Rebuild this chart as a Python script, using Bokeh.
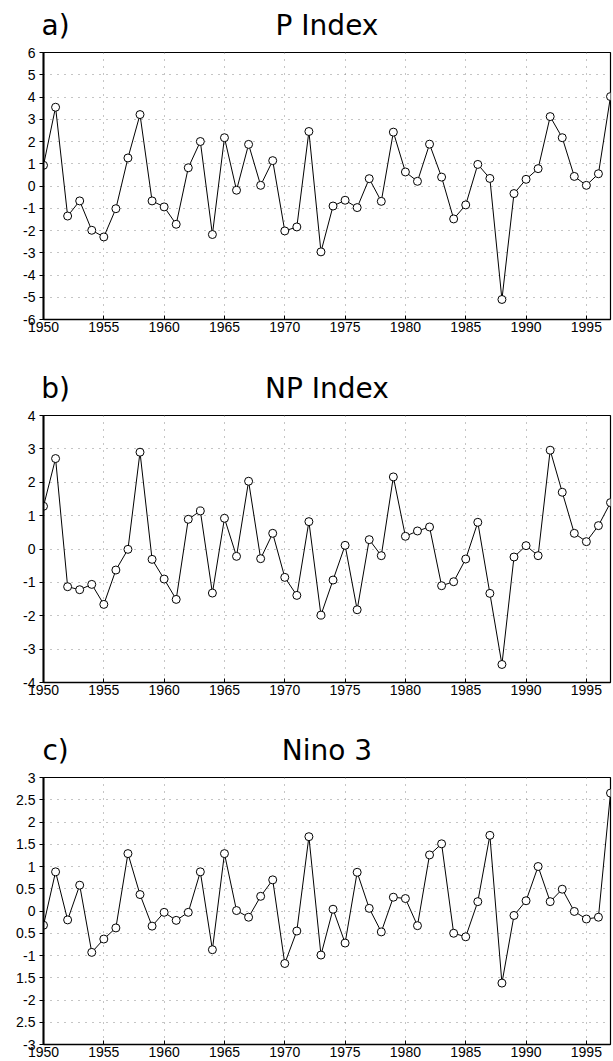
from bokeh.plotting import figure
from bokeh.models import FixedTicker, Range1d, LinearAxis
from bokeh.layouts import column
from bokeh.embed import file_html
from bokeh.resources import INLINE

years = list(range(1950, 1998))

p_index = [0.93, 3.54, -1.35, -0.67, -1.99, -2.29, -1.02, 1.26, 3.21, -0.67,
           -0.94, -1.72, 0.82, 2.00, -2.18, 2.17, -0.19, 1.87, 0.03, 1.14,
           -2.02, -1.84, 2.45, -2.96, -0.90, -0.64, -0.97, 0.33, -0.69, 2.42,
           0.63, 0.21, 1.88, 0.40, -1.48, -0.85, 0.97, 0.34, -5.10, -0.34,
           0.30, 0.78, 3.12, 2.17, 0.43, 0.03, 0.55, 4.02]

np_index = [1.28, 2.71, -1.13, -1.22, -1.06, -1.66, -0.63, -0.01, 2.90, -0.31,
            -0.90, -1.51, 0.89, 1.14, -1.32, 0.92, -0.22, 2.03, -0.29, 0.47,
            -0.85, -1.39, 0.82, -1.98, -0.93, 0.11, -1.82, 0.28, -0.20, 2.16,
            0.38, 0.54, 0.66, -1.10, -0.98, -0.30, 0.80, -1.33, -3.46, -0.24,
            0.10, -0.20, 2.96, 1.70, 0.47, 0.22, 0.70, 1.39]

nino3 = [-0.32, 0.88, -0.20, 0.58, -0.93, -0.63, -0.38, 1.29, 0.37, -0.34,
         -0.03, -0.21, -0.03, 0.88, -0.87, 1.29, 0.01, -0.14, 0.33, 0.70,
         -1.18, -0.45, 1.67, -0.99, 0.04, -0.72, 0.87, 0.06, -0.47, 0.31,
         0.28, -0.33, 1.26, 1.51, -0.50, -0.58, 0.21, 1.70, -1.62, -0.10,
         0.23, 1.00, 0.21, 0.49, -0.01, -0.18, -0.14, 2.65]

titles = ["P Index", "NP Index", "Nino 3"]
panel_tags = ["a)", "b)", "c)"]

x_ticks = [1950, 1955, 1960, 1965, 1970, 1975, 1980, 1985, 1990, 1995]

a_ticks = [-6, -5, -4, -3, -2, -1, 0, 1, 2, 3, 4, 5, 6]
a_labels = ["-6", "-5", "-4", "-3", "-2", "-1", "0", "1", "2", "3", "4", "5", "6"]
b_ticks = [-4, -3, -2, -1, 0, 1, 2, 3, 4]
b_labels = ["-4", "-3", "-2", "-1", "0", "1", "2", "3", "4"]
c_ticks = [-3, -2.5, -2, -1.5, -1, -0.5, 0, 0.5, 1, 1.5, 2, 2.5, 3]
c_labels = ["-3", "2.5", "-2", "1.5", "-1", "0.5", "0", "0.5", "1", "1.5", "2", "2.5", "3"]

series = [p_index, np_index, nino3]
y_tick_sets = [a_ticks, b_ticks, c_ticks]
y_label_sets = [a_labels, b_labels, c_labels]

TICK_FONT = "Liberation Sans"
TITLE_FONT = "DejaVu Sans"

FRAME_W = 567
FRAME_H = 267
BORDER_L = 43
BORDER_R = 2
TOTAL_W = BORDER_L + FRAME_W + BORDER_R
BORDER_T = [52, 52, 51]
BORDER_B = [44, 44, 17]


def key(v):
    return int(v) if float(v).is_integer() else v


figs = []
for i in range(3):
    vals = series[i]
    ticks = y_tick_sets[i]
    ymin, ymax = ticks[0], ticks[-1]
    p = figure(width=TOTAL_W, height=BORDER_T[i] + FRAME_H + BORDER_B[i], title=None,
               x_range=Range1d(years[0], years[-1]),
               y_range=Range1d(ymin, ymax),
               output_backend="svg", toolbar_location=None,
               min_border_left=BORDER_L, min_border_right=BORDER_R,
               min_border_top=BORDER_T[i], min_border_bottom=BORDER_B[i])
    p.background_fill_color = "white"
    p.border_fill_color = "white"
    p.outline_line_color = "black"
    p.outline_line_width = 1.2

    p.xaxis.ticker = FixedTicker(ticks=x_ticks)
    p.xaxis.major_tick_in = 4
    p.xaxis.major_tick_out = 0
    p.xaxis.minor_tick_line_color = None
    p.xaxis.major_label_standoff = 2
    p.xaxis.axis_line_width = 1.6
    p.xaxis.axis_line_color = "black"
    p.xaxis.major_tick_line_color = "black"
    p.xaxis.major_label_text_font = TICK_FONT
    p.xaxis.major_label_text_font_size = "14px"
    p.xaxis.major_label_text_color = "black"

    p.yaxis.ticker = FixedTicker(ticks=ticks)
    p.yaxis.major_label_overrides = {key(t): s for t, s in zip(ticks, y_label_sets[i])}
    p.yaxis.major_tick_in = 0
    p.yaxis.major_tick_out = 4
    p.yaxis.minor_tick_line_color = None
    p.yaxis.major_label_standoff = 4
    p.yaxis.axis_line_width = 2
    p.yaxis.axis_line_color = "black"
    p.yaxis.major_tick_line_color = "black"
    p.yaxis.major_label_text_font = TICK_FONT
    p.yaxis.major_label_text_font_size = "14px"
    p.yaxis.major_label_text_color = "black"

    # panel tag and centred title, carried by an unlined axis above the frame
    xc = (years[0] + years[-1]) / 2
    top = LinearAxis(ticker=FixedTicker(ticks=[years[1], xc]),
                     major_label_overrides={years[1]: panel_tags[i], xc: titles[i]},
                     axis_line_color=None, major_tick_line_color=None,
                     minor_tick_line_color=None, major_tick_in=0, major_tick_out=0,
                     major_label_standoff=11,
                     major_label_text_font=TITLE_FONT,
                     major_label_text_font_size="28px",
                     major_label_text_color="black")
    p.add_layout(top, "above")

    p.xgrid.ticker = FixedTicker(ticks=x_ticks)
    p.ygrid.ticker = FixedTicker(ticks=ticks)
    for g in (p.xgrid, p.ygrid):
        g.grid_line_color = "#8a8a8a"
        g.grid_line_dash = "1 6"
        g.grid_line_width = 1

    p.line(years, vals, line_color="black", line_width=1)
    p.scatter(years, vals, marker="circle", size=8, fill_color="white",
              line_color="black", line_width=1)
    figs.append(p)

layout = column(*figs)
open("out.html", "w").write(file_html(layout, INLINE))
